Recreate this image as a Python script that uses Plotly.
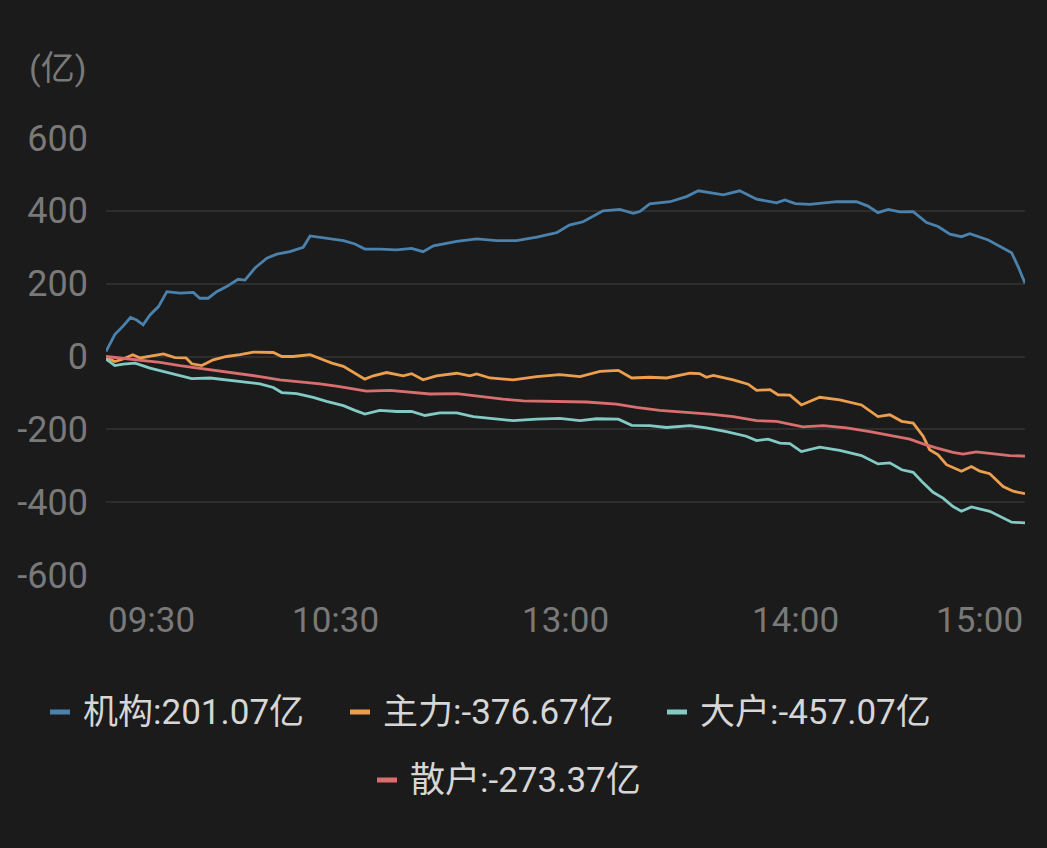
"""
Intraday net fund flow by trader class (unit: 亿), dark app-style line chart.
"""

import plotly.graph_objects as go

# trading minutes since 09:30 (lunch break removed: 120 = 13:00, 240 = 15:00)
jigou_t = [0, 2.3, 4.5, 6.4, 8, 9.7, 11.5, 13.7, 15.9, 19.3, 22.8, 24.5, 26.7, 28.9,
           31.5, 34.5, 36.3, 38.9, 42, 44.6, 48, 51.5, 53.3, 57.7, 62, 65, 67.6, 71.5,
           75.9, 79.8, 82.8, 85.5, 91.6, 96.8, 102, 107.2, 112.5, 117.7, 121, 124.6,
           129.8, 134.2, 137.7, 139.4, 142, 147.3, 151.6, 154.7, 157.3, 161.2, 165.5,
           169.9, 175.1, 177.3, 180, 183.8, 190.8, 196, 199, 201.6, 204.3, 207.3, 210.8,
           214.3, 217.3, 220.4, 223.4, 225.6, 230.4, 233, 236.5, 238.2, 240]
jigou_v = [14, 60, 84, 107, 100, 87, 114, 137, 178, 174, 176, 160, 160, 178,
           192, 212, 210, 243, 270, 281, 288, 300, 331, 325, 318, 309, 295, 295,
           293, 297, 288, 304, 316, 323, 318, 318, 328, 340, 361, 370,
           400, 404, 393, 398, 419, 425, 439, 455, 450, 444, 455,
           432, 422, 430, 420, 418, 425, 425, 413, 395, 404, 397, 398,
           368, 357, 336, 329, 337, 320, 306, 285, 247, 201.07]

zhuli_t = [0, 2.3, 4.5, 7, 8.9, 11.5, 15, 18, 20.9, 22.4, 25, 28, 31.5, 35, 38.5, 43.7,
           45.9, 48.9, 53.3, 56.7, 59, 62, 65, 67.6, 69.8, 73.3, 77.6, 79.8, 82.8, 86.3,
           91.6, 95, 96.8, 100.3, 106.3, 112.5, 118.5, 123.8, 129, 133.8, 137.3, 142,
           146.4, 152.5, 155, 156.8, 158.6, 163.8, 167.7, 169.9, 173.4, 175.5, 178.6,
           181.6, 186.4, 191.6, 197.3, 201.6, 204.7, 207.8, 210.8, 213.4, 215.1, 217.3,
           219.5, 223.4, 226, 228.2, 230.8, 234.3, 236.9, 240]
zhuli_v = [-2, -14, -7, 5, -4, 0, 7, -3, -4, -20, -25, -9, 0, 5, 12, 11,
           0, 0, 5, -9, -18, -27, -46, -62, -53, -44, -53, -47, -64, -53,
           -46, -53, -48, -59, -64, -55, -50, -55, -41, -38, -59, -57,
           -59, -46, -47, -57, -52, -64, -76, -93, -91, -105, -106,
           -133, -112, -119, -133, -165, -160, -178, -183, -219, -256, -270,
           -297, -315, -302, -315, -322, -357, -370, -376.67]

dahu_t = [0, 2.3, 4.5, 7.6, 11.5, 15, 18.5, 22.4, 27.2, 31.5, 35.8, 40.2, 43.7, 45.9,
          49.8, 54.1, 57.6, 62, 65, 67.6, 71.5, 75.9, 79.8, 83.3, 87.2, 91.6, 95.9,
          101.1, 106.3, 112.5, 118.5, 123.8, 128.1, 133.8, 137.3, 142, 146.4, 152.5,
          156.8, 162, 167.2, 169.9, 172.9, 176, 178.6, 181.6, 186.4, 191.6, 197.3,
          201.6, 204.7, 207.8, 210.8, 213.4, 216, 218.6, 221.2, 223.4, 226, 230.8,
          234.3, 236.5, 240]
dahu_v = [-7, -25, -21, -18, -32, -41, -50, -61, -59, -64, -71, -75, -85, -99,
          -102, -112, -123, -135, -148, -158, -148, -151, -151, -162, -155, -155, -165,
          -171, -176, -172, -170, -176, -171, -172, -189, -190, -195, -190,
          -196, -206, -219, -231, -227, -238, -239, -261, -249, -258, -272,
          -295, -292, -311, -318, -347, -373, -389, -412, -425, -413, -425,
          -443, -455, -457.07]

sanhu_t = [0, 3.7, 8, 14.1, 19.3, 24.5, 29.8, 35, 40.2, 45.4, 50.7, 55.9, 60.6, 63.7,
           68, 74.2, 80.2, 84.6, 91.6, 97.7, 103.7, 109, 115.1, 120.7, 125.5, 133.3,
           138.5, 144.6, 151.6, 157.7, 163.8, 169.9, 175.1, 178.6, 182, 187.3, 193.4,
           199.5, 204.7, 209.9, 213.4, 216.8, 221.2, 223.8, 227.3, 232.5, 236, 240]
sanhu_v = [0, -4, -9, -16, -25, -32, -39, -46, -55, -64, -69, -75, -82, -87,
           -95, -93, -99, -103, -102, -110, -117, -122, -123, -124, -125, -131,
           -140, -148, -153, -158, -165, -176, -178, -185, -193, -190, -196,
           -206, -217, -227, -240, -251, -263, -268, -262, -267, -272, -273.37]

series_names = ["机构", "主力", "大户", "散户"]
series_t = [jigou_t, zhuli_t, dahu_t, sanhu_t]
series_v = [jigou_v, zhuli_v, dahu_v, sanhu_v]

x_tick_vals = [0, 60, 120, 180, 240]
x_tick_text = ["09:30", "10:30", "13:00", "14:00", "15:00"]
y_tick_vals = [-600, -400, -200, 0, 200, 400, 600]
y_tick_text = ["-600", "-400", "-200", "0", "200", "400", "600"]

COLORS = ["#4a82ad", "#eb9f4e", "#82cac3", "#d96e6e"]
BG = "#1b1b1b"
GRID = "#2d2d2d"
TICK_COLOR = "#797979"
LEGEND_COLOR = "#d6d6d6"
FONT = "Roboto, Noto Sans CJK SC, sans-serif"

W, H = 1047, 848
PLOT_L, PLOT_R, PLOT_T, PLOT_B = 106, 1025, 138, 575


def px(x):
    return (x - PLOT_L) / (PLOT_R - PLOT_L)


def py(y):
    return (PLOT_B - y) / (PLOT_B - PLOT_T)


fig = go.Figure()

for name, t, v, color in zip(series_names, series_t, series_v, COLORS):
    fig.add_trace(
        go.Scatter(
            x=t, y=v, mode="lines", name=name,
            line=dict(color=color, width=2.8),
            hovertemplate=name + ": %{y:.2f}亿<extra></extra>",
        )
    )

annotations = []
shapes = []

# y unit label
annotations.append(dict(
    text="(亿)", xref="paper", yref="paper", x=px(88), y=py(68),
    xanchor="right", yanchor="middle", showarrow=False,
    font=dict(family=FONT, size=34, color=TICK_COLOR),
))

# x tick labels: first left-aligned, last right-aligned
for i, (tv, tt) in enumerate(zip(x_tick_vals, x_tick_text)):
    anchor = "left" if i == 0 else ("right" if i == len(x_tick_vals) - 1 else "center")
    annotations.append(dict(
        text=tt, xref="x", yref="paper", x=tv, y=py(620),
        xanchor=anchor, yanchor="middle", showarrow=False,
        font=dict(family=FONT, size=35, color=TICK_COLOR),
    ))

# custom legend: short thick swatch + "name:value亿"
legend_slots = [(50, 712), (350, 712), (667, 712), (377, 780)]
for (sx, sy), name, v, color in zip(legend_slots, series_names, series_v, COLORS):
    shapes.append(dict(
        type="rect", xref="paper", yref="paper",
        x0=px(sx), x1=px(sx + 20), y0=py(sy + 2.5), y1=py(sy - 2.5),
        fillcolor=color, line=dict(width=0),
    ))
    annotations.append(dict(
        text=f"{name}:{v[-1]:.2f}亿", xref="paper", yref="paper",
        x=px(sx + 31), y=py(sy), xanchor="left", yanchor="middle", showarrow=False,
        font=dict(family=FONT, size=35, color=LEGEND_COLOR),
    ))

fig.update_layout(
    width=W, height=H,
    margin=dict(l=PLOT_L, r=W - PLOT_R, t=PLOT_T, b=H - PLOT_B, pad=0),
    paper_bgcolor=BG, plot_bgcolor=BG,
    showlegend=False,
    font=dict(family=FONT, color=TICK_COLOR),
    xaxis=dict(range=[0, 240], showgrid=False, zeroline=False, showticklabels=False,
               showline=False, fixedrange=True),
    yaxis=dict(range=[-600, 600], tickvals=y_tick_vals, ticktext=y_tick_text,
               showgrid=True, gridcolor=GRID, gridwidth=1.5,
               zeroline=True, zerolinecolor=GRID, zerolinewidth=1.5,
               showline=False, ticks="", ticklabelstandoff=17,
               tickfont=dict(family=FONT, size=36, color=TICK_COLOR), fixedrange=True),
    annotations=annotations,
    shapes=shapes,
)

# page body has a default 8px margin; drop it so the chart fills the window exactly
fig.write_html(
    "out.html",
    config={"displayModeBar": False},
    post_script="document.body.style.margin='0';document.body.style.background='" + BG + "';",
)
